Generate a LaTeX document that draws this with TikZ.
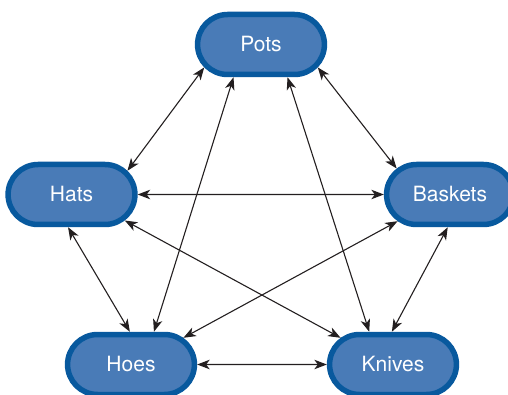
\documentclass[tikz,border=0pt]{standalone}
\usepackage{fontspec}
\setmainfont{TeX Gyre Heros}
\usepackage{tikz}
\usetikzlibrary{shapes.misc,arrows.meta,positioning}
\definecolor{boxfill}{RGB}{73,123,183}
\definecolor{boxedge}{RGB}{8,89,158}
\definecolor{linkdark}{RGB}{35,31,32}

\begin{document}
\begin{tikzpicture}[x=1pt, y=-1pt,
    item/.style={rounded rectangle, draw=boxedge, line width=5.5pt, fill=boxfill, minimum width=133.5pt, minimum height=60pt, text=white, font=\fontsize{21}{25}\selectfont},
    tip/.tip={Stealth[length=12.5pt, width=9.5pt, inset=3.5pt]},
    link/.style={tip-tip, linkdark, line width=1.1pt}
]
\useasboundingbox (0,0) rectangle (508,395);

% Items
\node[item] (pots) at (261,44.5) {Pots};
\node[item] (hats) at (71.5,194.5) {Hats};
\node[item] (baskets) at (450,194.5) {Baskets};
\node[item] (hoes) at (131,364.5) {Hoes};
\node[item] (knives) at (393,364.5) {Knives};

% Links from Pots
\draw[link] (pots.202) -- (hats.23);
\draw[link] (pots.338) -- (baskets.154);
\draw[link] (pots.230) -- (hoes.55);
\draw[link] (pots.309) -- (knives.126);

% Links from Hats
\draw[link] (hats.0) -- (baskets.180);
\draw[link] (hats.264) -- (hoes.92);
\draw[link] (hats.334) -- (knives.153);

% Links from Baskets
\draw[link] (baskets.207) -- (hoes.27);
\draw[link] (baskets.266) -- (knives.92);

% Hoes to Knives
\draw[link] (hoes.0) -- (knives.180);

\end{tikzpicture}
\end{document}
